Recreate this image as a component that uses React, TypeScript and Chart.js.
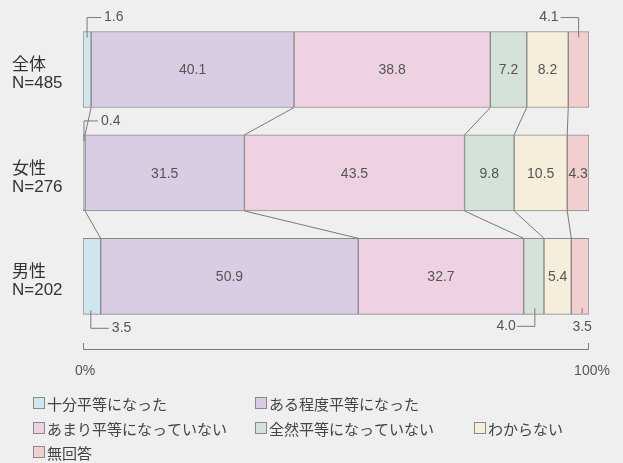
import React, { useEffect, useRef } from "react";
import { Chart, registerables } from "chart.js";
Chart.register(...registerables);

const categories = [["全体", "N=485"], ["女性", "N=276"], ["男性", "N=202"]];
const seriesNames = ["十分平等になった", "ある程度平等になった", "あまり平等になっていない", "全然平等になっていない", "わからない", "無回答"];
const sufficient = [1.6, 0.4, 3.5];
const somewhat = [40.1, 31.5, 50.9];
const notMuch = [38.8, 43.5, 32.7];
const notAtAll = [7.2, 9.8, 4.0];
const dontKnow = [8.2, 10.5, 5.4];
const noAnswer = [4.1, 4.3, 3.5];
const axisLabels = ["0%", "100%"];

const colors = ["#d0e6ee", "#d8cde2", "#eed2e2", "#d4e2da", "#f4eedb", "#f1cfcf"];
const FONT = "'Liberation Sans', 'Noto Sans CJK JP', sans-serif";
const JFONT = "'Noto Sans CJK JP', sans-serif";
const BG = "#efefef";
const LINE = "#7a7a7a";
const TXT = "#555555";

const allSeries = [sufficient, somewhat, notMuch, notAtAll, dontKnow, noAnswer];

// callouts: [datasetIndex, barIndex, style]
const callouts: [number, number, string][] = [
  [0, 0, "aboveRight"],
  [5, 0, "aboveLeft"],
  [0, 1, "aboveRight"],
  [0, 2, "belowRight"],
  [3, 2, "belowLeft"],
  [5, 2, "below"],
];

const drawPlugin = {
  id: "custom",
  beforeDraw(chart: any) {
    const { ctx, width, height } = chart;
    ctx.save();
    ctx.fillStyle = BG;
    ctx.fillRect(0, 0, width, height);
    ctx.restore();
  },
  afterDatasetsDraw(chart: any) {
    const { ctx } = chart;
    const xs = chart.scales.x;
    const n = allSeries.length;
    ctx.save();
    // connectors
    ctx.strokeStyle = LINE;
    ctx.lineWidth = 1;
    for (let i = 0; i < categories.length - 1; i++) {
      for (let d = 0; d < n - 1; d++) {
        const a = chart.getDatasetMeta(d).data[i];
        const b = chart.getDatasetMeta(d).data[i + 1];
        ctx.beginPath();
        ctx.moveTo(a.x, a.y + a.height / 2);
        ctx.lineTo(b.x, b.y - b.height / 2);
        ctx.stroke();
      }
    }
    // inside labels
    ctx.fillStyle = TXT;
    ctx.font = `14px ${FONT}`;
    ctx.textAlign = "center";
    ctx.textBaseline = "middle";
    const isCallout = (d: number, i: number) => callouts.some(c => c[0] === d && c[1] === i);
    for (let d = 0; d < n; d++) {
      const meta = chart.getDatasetMeta(d);
      meta.data.forEach((el: any, i: number) => {
        if (isCallout(d, i)) return;
        ctx.fillText(allSeries[d][i].toFixed(1), (el.x + el.base) / 2, el.y + 1);
      });
    }
    // callouts
    for (const [d, i, style] of callouts) {
      const el = chart.getDatasetMeta(d).data[i];
      const cx = (el.x + el.base) / 2;
      const top = el.y - el.height / 2;
      const bot = el.y + el.height / 2;
      const label = allSeries[d][i].toFixed(1);
      ctx.beginPath();
      if (style === "aboveRight") {
        const ly = top - 14;
        ctx.moveTo(cx, top + 6);
        ctx.lineTo(cx, ly);
        ctx.lineTo(cx + 14, ly);
        ctx.stroke();
        ctx.textAlign = "left";
        ctx.fillText(label, cx + 17, ly);
      } else if (style === "aboveLeft") {
        const ly = top - 14;
        ctx.moveTo(cx, top + 6);
        ctx.lineTo(cx, ly);
        ctx.lineTo(cx - 18, ly);
        ctx.stroke();
        ctx.textAlign = "right";
        ctx.fillText(label, cx - 20, ly);
      } else if (style === "belowRight") {
        const ly = bot + 14;
        ctx.moveTo(cx - 1, bot - 4);
        ctx.lineTo(cx - 1, ly);
        ctx.lineTo(cx + 17, ly);
        ctx.stroke();
        ctx.textAlign = "left";
        ctx.fillText(label, cx + 20, ly);
      } else if (style === "belowLeft") {
        const ly = bot + 12;
        ctx.moveTo(cx + 1, bot - 6);
        ctx.lineTo(cx + 1, ly);
        ctx.lineTo(cx - 17, ly);
        ctx.stroke();
        ctx.textAlign = "right";
        ctx.fillText(label, cx - 18, ly);
      } else {
        ctx.moveTo(cx + 2, bot - 6);
        ctx.lineTo(cx + 2, bot - 1);
        ctx.stroke();
        ctx.textAlign = "center";
        ctx.fillText(label, cx + 2, bot + 13);
      }
    }
    // bracket axis
    const x0 = xs.getPixelForValue(0);
    const x1 = xs.getPixelForValue(100);
    const by = 349;
    ctx.beginPath();
    ctx.moveTo(x0 + 0.5, by - 6);
    ctx.lineTo(x0 + 0.5, by + 0.5);
    ctx.lineTo(x1 - 0.5, by + 0.5);
    ctx.lineTo(x1 - 0.5, by - 6);
    ctx.stroke();
    ctx.font = `14px ${FONT}`;
    ctx.textAlign = "center";
    ctx.fillText(axisLabels[0], x0 + 2, 371);
    ctx.fillText(axisLabels[1], x1 + 3, 371);
    // legend
    const cols = [33, 255, 474];
    const rows = [403, 428, 452];
    const layout = [[0, 0], [1, 0], [0, 1], [1, 1], [2, 1], [0, 2]];
    ctx.font = `15px ${JFONT}`;
    ctx.textAlign = "left";
    seriesNames.forEach((name, k) => {
      const x = cols[layout[k][0]];
      const y = rows[layout[k][1]];
      ctx.fillStyle = colors[k];
      ctx.fillRect(x, y - 6, 12, 12);
      ctx.strokeStyle = "#8a8a8a";
      ctx.strokeRect(x + 0.5, y - 5.5, 11, 11);
      ctx.fillStyle = "#444444";
      ctx.fillText(name, x + 14, y + 1);
    });
    ctx.restore();
  },
};

export default function App() {
  const ref = useRef<HTMLCanvasElement>(null);
  useEffect(() => {
    document.body.style.margin = "0";
    document.body.style.background = BG;
    const chart = new Chart(ref.current!, {
      type: "bar",
      data: {
        labels: categories,
        datasets: allSeries.map((s, k) => ({
          label: seriesNames[k],
          data: s,
          backgroundColor: colors[k],
          borderColor: "#8a8a8a",
          borderWidth: 1,
          borderSkipped: false,
          barThickness: 76,
        })),
      },
      options: {
        indexAxis: "y",
        responsive: false,
        animation: false,
        devicePixelRatio: 1,
        layout: { padding: { left: 12, right: 34, top: 14, bottom: 135 } },
        plugins: { legend: { display: false }, tooltip: { enabled: false } },
        scales: {
          x: { stacked: true, min: 0, max: 100, display: false },
          y: {
            stacked: true,
            grid: { display: false },
            border: { display: false },
            afterFit: (scale: any) => { scale.width = 71; },
            ticks: {
              color: "#333333",
              font: { family: FONT, size: 17, lineHeight: 1.05 },
              crossAlign: "far",
              labelOffset: 5,
              padding: 0,
            },
          },
        },
      },
      plugins: [drawPlugin],
    });
    return () => chart.destroy();
  }, []);
  return (
    <div style={{ width: 623, height: 463 }}>
      <canvas ref={ref} width={623} height={463} />
    </div>
  );
}
